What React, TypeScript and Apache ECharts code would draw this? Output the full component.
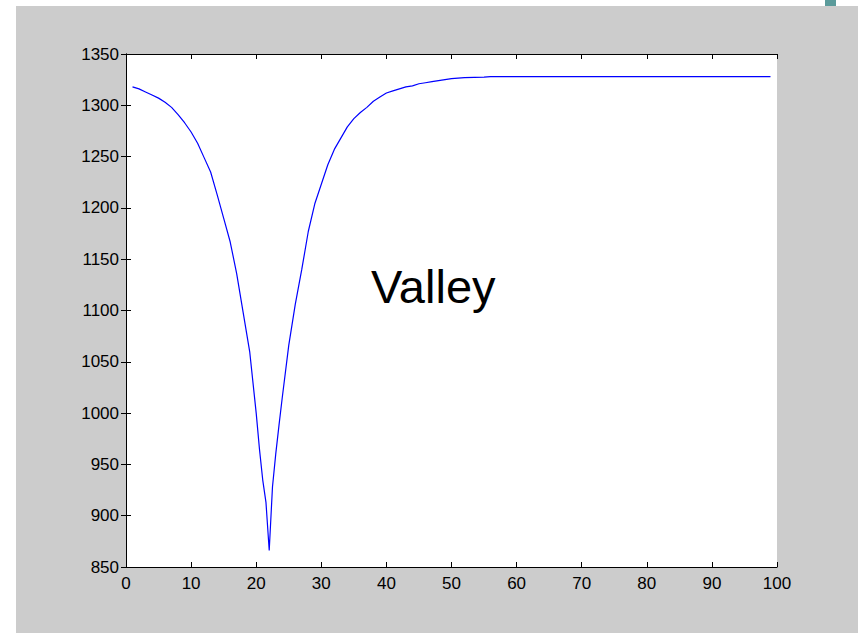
import React, { useEffect, useRef } from "react";
import * as echarts from "echarts";

const xValues: number[] = [
  1, 2, 3, 4, 5, 6, 7, 8, 9, 10, 11, 12, 13, 14, 15, 16, 17, 18, 19, 20, 20.5, 21, 21.5, 22,
  22.5, 23, 23.5, 24, 25, 26, 27, 28, 29, 30, 31, 32, 33, 34, 35, 36, 37, 38, 39, 40, 41, 42,
  43, 44, 45, 46, 47, 48, 49, 50, 52, 55, 56, 60, 65, 70, 75, 80, 85, 90, 95, 99,
];
const yValues: number[] = [
  1318, 1316, 1313, 1310, 1307, 1303, 1298, 1291, 1283, 1274, 1263, 1249, 1235, 1213, 1190,
  1167, 1136, 1098, 1060, 1000, 965, 935, 913, 866,
  928, 960, 988, 1015, 1066, 1106, 1140, 1177, 1204, 1223, 1242, 1257, 1268, 1279, 1287,
  1293, 1298, 1304, 1308, 1312, 1314, 1316, 1318, 1319, 1321, 1322, 1323, 1324, 1325, 1326,
  1327, 1327.5, 1328, 1328, 1328, 1328, 1328, 1328, 1328, 1328, 1328, 1328,
];
const xTicks = { min: 0, max: 100, interval: 10 };
const yTicks = { min: 850, max: 1350, interval: 50 };
const annotation = "Valley";

export default function App() {
  const ref = useRef<HTMLDivElement>(null);
  useEffect(() => {
    if (!ref.current) return;
    const chart = echarts.init(ref.current, null, { renderer: "svg" });
    const font = "Liberation Sans, Arial, Helvetica, sans-serif";
    const label = { color: "#000", fontSize: 17, fontFamily: font, formatter: (v: number) => String(v) };
    const axisLine = { show: true, lineStyle: { color: "#000", width: 1 } };
    const tick = { show: true, inside: true, length: 5, lineStyle: { color: "#000", width: 1 } };
    chart.setOption({
      animation: false,
      backgroundColor: "#fff",
      graphic: [
        { type: "rect", z: -10, silent: true, shape: { x: 16, y: 6, width: 842, height: 627 }, style: { fill: "#cccccc" } },
        { type: "rect", z: -10, silent: true, shape: { x: 825, y: 0, width: 11, height: 6 }, style: { fill: "#5b9b9b" } },
        {
          type: "text",
          z: 10,
          style: { text: annotation, x: 371, y: 263, fontSize: 47, fontFamily: font, fill: "#000", verticalAlign: "top" },
        },
      ],
      grid: { left: 126, top: 54, right: 81, bottom: 66, show: true, backgroundColor: "#fff", borderWidth: 0, containLabel: false },
      xAxis: [
        {
          type: "value", ...xTicks, position: "bottom",
          axisLine, axisTick: tick, splitLine: { show: false },
          axisLabel: { ...label, margin: 8 },
        },
        {
          type: "value", ...xTicks, position: "top",
          axisLine, axisTick: tick, splitLine: { show: false },
          axisLabel: { show: false },
        },
      ],
      yAxis: [
        {
          type: "value", ...yTicks, position: "left",
          axisLine, axisTick: tick, splitLine: { show: false },
          axisLabel: { ...label, margin: 7 },
        },
        {
          type: "value", ...yTicks, position: "right",
          axisLine, axisTick: tick, splitLine: { show: false },
          axisLabel: { show: false },
        },
      ],
      series: [
        {
          type: "line",
          xAxisIndex: 0,
          yAxisIndex: 0,
          data: xValues.map((x, i) => [x, yValues[i]]),
          showSymbol: false,
          symbol: "none",
          lineStyle: { color: "#0000ff", width: 1.2 },
        },
      ],
    });
    return () => chart.dispose();
  }, []);
  return <div ref={ref} style={{ position: "fixed", left: 0, top: 0, width: 858, height: 633 }} />;
}
